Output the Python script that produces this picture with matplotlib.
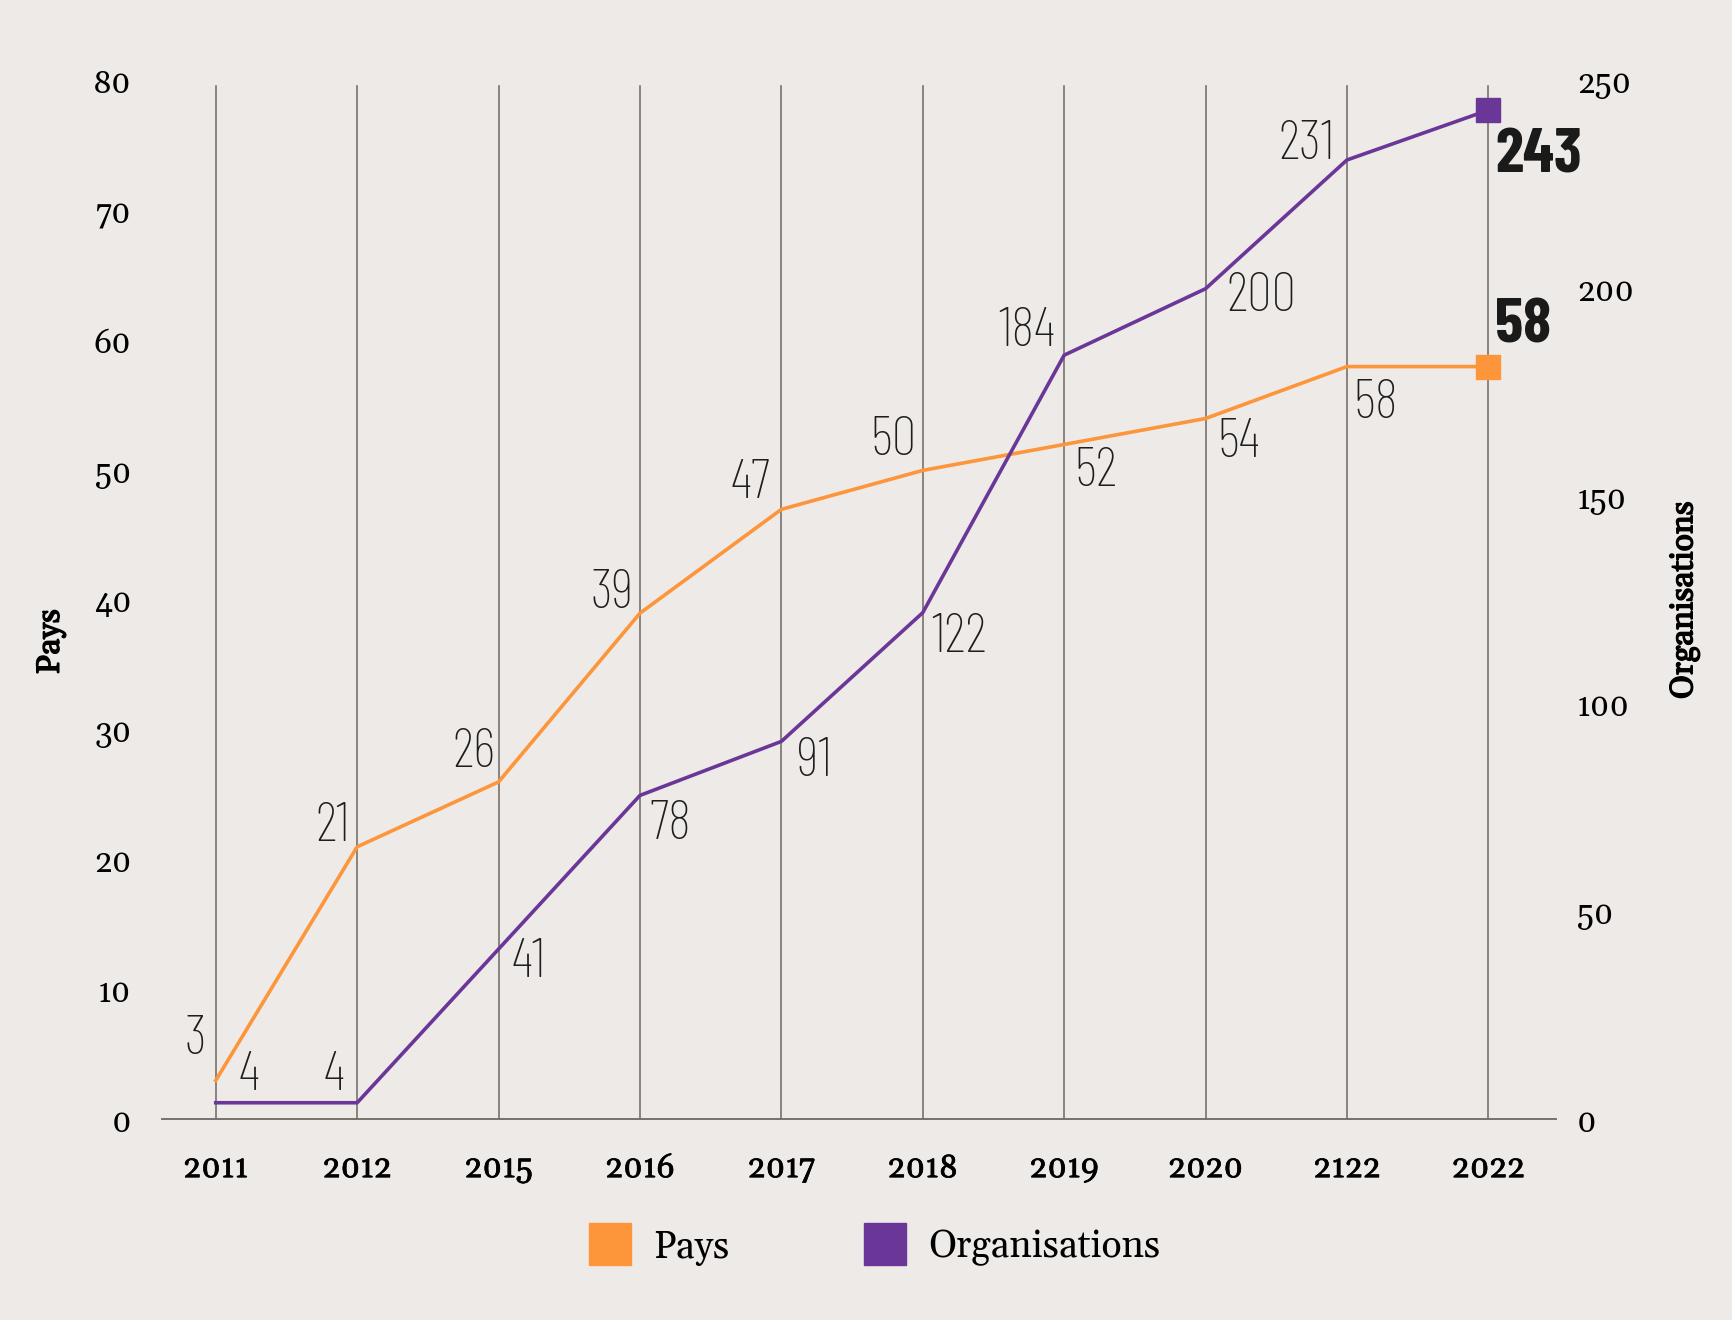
import matplotlib.pyplot as plt
import matplotlib.patheffects as pe
from matplotlib.lines import Line2D

years = ['2011', '2012', '2015', '2016', '2017', '2018', '2019', '2020', '2122', '2022']
pays = [3, 21, 26, 39, 47, 50, 52, 54, 58, 58]
orgs = [4, 4, 41, 78, 91, 122, 184, 200, 231, 243]

# label offsets in points (dx, dy)
pays_off = [(-15, 29), (-18, 14), (-18, 21), (-20, 14), (-22, 18), (-21, 21),
            (23, -20), (24, -18), (21, -27)]
orgs_off = [(24, 19), (-17, 19), (22, -10), (22, -21), (24, -15), (26, -18),
            (-27, 17), (40, -6), (-29, 11)]

bg = '#eeeae7'
orange = '#fd953b'
purple = '#6a3799'
serif = ['Gelasio', 'Merriweather', 'PT Serif', 'DejaVu Serif']
narrow = ['Barlow Condensed', 'Roboto Condensed', 'IBM Plex Sans Condensed', 'PT Sans Narrow', 'DejaVu Sans']
semibold = [pe.withStroke(linewidth=0.45, foreground='black')]
bold = [pe.withStroke(linewidth=1.0, foreground='black')]

fig = plt.figure(figsize=(17.33, 13.2), dpi=100, facecolor=bg)
ax = fig.add_axes([0.0935, 0.152, 0.8045, 0.7866], facecolor=bg)
ax2 = ax.twinx()

x = list(range(len(years)))
for xi in x:
    ax.plot([xi, xi], [0, 79.6], color='#77716b', lw=1.2, zorder=0)

ax.plot(x, pays, color=orange, lw=2.6, zorder=3)
ax2.plot(x, orgs, color=purple, lw=2.6, zorder=3)
ax.plot(x[-1], pays[-1], 's', color=orange, ms=17, zorder=4)
ax2.plot(x[-1], orgs[-1], 's', color=purple, ms=17, zorder=4)

ax.set_xlim(-0.38, 9.48)
ax.set_ylim(0, 80)
ax2.set_ylim(0, 250)
ax.set_xticks(x)
ax.set_xticklabels(years)
ax.set_yticks(range(0, 81, 10))
ax2.set_yticks(range(0, 251, 50))

for a in (ax, ax2):
    for s in a.spines.values():
        s.set_visible(False)
    a.tick_params(length=0, labelsize=23)
ax.spines['bottom'].set_visible(True)
ax.spines['bottom'].set_color('#77716b')
ax.spines['bottom'].set_linewidth(1.4)
ax.tick_params(axis='x', pad=24)
ax.tick_params(axis='y', pad=22)
ax2.tick_params(axis='y', pad=15)
for lab in ax.get_xticklabels():
    lab.set_family(serif)
    lab.set_path_effects(semibold)
for lab in ax.get_yticklabels() + ax2.get_yticklabels():
    lab.set_family(serif)

ax.set_ylabel('Pays', family=serif, fontsize=23, path_effects=bold)
ax.yaxis.set_label_coords(-0.069, 0.46)
ax2.set_ylabel('Organisations', family=serif, fontsize=23, path_effects=bold)
ax2.yaxis.set_label_coords(1.080, 0.5)

for i, (v, off) in enumerate(zip(pays[:-1], pays_off)):
    ax.annotate(str(v), (x[i], v), xytext=off, textcoords='offset points',
                ha='center', va='center', fontsize=40, family=narrow, fontweight='light', color='#1e1e1e')
for i, (v, off) in enumerate(zip(orgs[:-1], orgs_off)):
    ax2.annotate(str(v), (x[i], v), xytext=off, textcoords='offset points',
                 ha='center', va='center', fontsize=40, family=narrow, fontweight='light', color='#1e1e1e')

ax.annotate(str(pays[-1]), (x[-1], pays[-1]), xytext=(25, 29), textcoords='offset points',
            ha='center', va='center', fontsize=46, family=narrow, fontweight='bold', color='#1a1a1a')
ax2.annotate(str(orgs[-1]), (x[-1], orgs[-1]), xytext=(36, -33), textcoords='offset points',
             ha='center', va='center', fontsize=46, family=narrow, fontweight='bold', color='#1a1a1a')

handles = [Line2D([], [], ls='', marker='s', ms=30, color=orange, label='Pays'),
           Line2D([], [], ls='', marker='s', ms=30, color=purple, label='Organisations')]
fig.legend(handles=handles, loc='center', bbox_to_anchor=(0.5, 0.055), ncol=2, frameon=False,
           prop={'family': serif, 'size': 27}, columnspacing=3.15, handletextpad=0.15)

fig.savefig('out.png', dpi=100, facecolor=bg)
